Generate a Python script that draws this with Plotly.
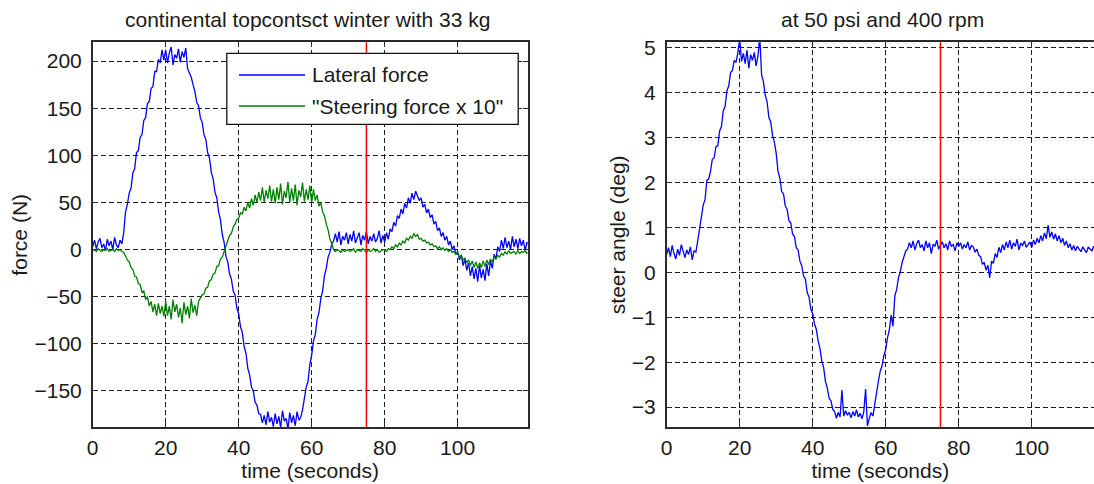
import plotly.graph_objects as go

TIME_STEP = 0.5

lateral_force = [
    3, 10, 1, 8, 12, 2, 6, -1, 11, 4, 9, 0, 13, 5, 2, 10, 6, 18, 40, 48,
    60, 65, 81, 86, 103, 105, 119, 122, 137, 140, 155, 157, 171, 173, 189, 189, 202, 198, 212, 201,
    212, 198, 209, 215, 196, 207, 203, 213, 199, 210, 204, 214, 192, 188, 183, 175, 168, 156, 153, 140,
    135, 122, 117, 103, 97, 82, 75, 61, 55, 40, 32, 16, 8, -7, -13, -26, -31, -44, -48, -62,
    -68, -82, -88, -103, -110, -126, -133, -146, -150, -162, -165, -174, -175, -184, -176, -186, -172, -183, -178, -188,
    -174, -185, -177, -189, -171, -182, -179, -190, -173, -184, -176, -187, -172, -181, -178, -170, -158, -146, -140, -122,
    -112, -97, -90, -74, -67, -52, -44, -28, -20, -8, -3, 6, 9, 17, 8, 19, 5, 14, 10, 18,
    6, 16, 9, 20, 7, 13, 18, 5, 15, 10, 19, 6, 14, 9, 17, 8, 12, 20, 7, 15,
    8, 18, 11, 22, 19, 29, 25, 36, 33, 43, 38, 49, 44, 55, 49, 60, 53, 62, 56, 52,
    55, 45, 48, 39, 43, 34, 37, 27, 30, 20, 23, 14, 18, 10, 14, 5, 9, 0, 4, -5,
    -2, -11, -6, -17, -10, -22, -14, -28, -18, -31, -20, -34, -17, -30, -21, -33, -15, -28, -12, -20,
    -5, -10, 3, -2, 10, 1, 13, 2, 9, 0, 14, 3, 11, 1, 12, 4, 10, -1, 8, 5,
]

steering_force_x10 = [
    -1, 0, -2, 1, -1, -2, 0, -1, 1, -2, -1, 0, -2, 1, -1, 0, -2, -3, -7, -11,
    -13, -19, -21, -28, -29, -36, -37, -45, -44, -53, -50, -60, -55, -66, -58, -70, -57, -68, -60, -71,
    -55, -70, -60, -74, -53, -66, -58, -72, -62, -78, -56, -69, -60, -73, -52, -67, -59, -70, -55, -51,
    -48, -47, -41, -40, -33, -32, -26, -25, -18, -17, -10, -8, -2, 2, 9, 15, 17, 24, 27, 32,
    33, 39, 38, 45, 41, 50, 44, 54, 47, 58, 50, 61, 52, 66, 50, 63, 54, 68, 51, 64,
    49, 66, 53, 70, 48, 62, 55, 72, 50, 65, 52, 69, 47, 63, 56, 71, 51, 64, 53, 68,
    50, 64, 52, 58, 46, 50, 40, 36, 27, 21, 11, 7, 0, -2, 0, -1, -3, 0, -2, -1,
    0, -2, -1, 1, -3, 0, -1, -2, 1, -1, -3, 0, -2, -1, 1, -2, 0, -3, -1, 0,
    0, -2, 1, 0, 3, 1, 5, 3, 7, 5, 9, 7, 12, 10, 14, 12, 17, 14, 16, 11,
    12, 9, 10, 7, 8, 5, 6, 3, 4, 1, 3, 0, 2, -1, 1, -2, 0, -3, -2, -5,
    -3, -8, -6, -11, -9, -14, -11, -17, -12, -19, -13, -20, -14, -19, -12, -18, -11, -16, -10, -13,
    -8, -10, -6, -8, -4, -6, -2, -5, -1, -4, -3, -2, -5, -1, -4, -2, -3, -1, -4, -2,
]

steer_angle = [
    0.40, 0.55, 0.35, 0.60, 0.42, 0.30, 0.52, 0.38, 0.62, 0.45, 0.33, 0.50, 0.40, 0.57, 0.28, 0.48, 0.45, 0.70, 0.95, 1.20,
    1.50, 1.62, 2.05, 2.08, 2.25, 2.52, 2.55, 2.80, 2.82, 3.15, 3.25, 3.60, 3.70, 4.05, 4.15, 4.45, 4.50, 4.72, 4.68, 4.90,
    5.20, 4.70, 4.88, 4.65, 4.95, 4.55, 4.85, 4.72, 4.90, 4.60, 4.82, 5.25, 4.40, 4.25, 3.95, 3.80, 3.45, 3.35, 3.05, 2.90,
    2.65, 2.25, 2.10, 1.80, 1.75, 1.48, 1.40, 1.15, 1.10, 0.85, 0.80, 0.55, 0.50, 0.25, 0.15, -0.08, -0.15, -0.45, -0.55, -0.82,
    -0.92, -1.15, -1.27, -1.53, -1.70, -1.98, -2.12, -2.43, -2.57, -2.80, -2.86, -3.05, -3.10, -3.25, -3.12, -3.22, -2.62, -3.20, -3.08, -3.18,
    -3.12, -3.24, -3.10, -3.20, -3.06, -3.22, -3.14, -3.26, -3.10, -2.60, -3.42, -3.25, -3.12, -3.20, -2.92, -2.60, -2.42, -2.20, -2.08, -1.85,
    -1.72, -1.45, -1.28, -0.95, -1.20, -0.52, -0.38, -0.12, 0.02, 0.22, 0.33, 0.48, 0.52, 0.66, 0.55, 0.70, 0.50, 0.64, 0.72, 0.55,
    0.62, 0.48, 0.70, 0.55, 0.66, 0.42, 0.63, 0.58, 0.72, 0.52, 0.60, 0.68, 0.55, 0.64, 0.50, 0.70, 0.58, 0.62, 0.48, 0.66,
    0.58, 0.66, 0.52, 0.62, 0.55, 0.68, 0.50, 0.60, 0.57, 0.45, 0.52, 0.38, 0.35, 0.18, 0.22, 0.05, 0.16, -0.12, 0.25, 0.20,
    0.42, 0.33, 0.56, 0.44, 0.62, 0.50, 0.68, 0.55, 0.72, 0.52, 0.66, 0.58, 0.74, 0.50, 0.65, 0.60, 0.70, 0.56, 0.62, 0.68,
    0.55, 0.72, 0.62, 0.76, 0.66, 0.82, 0.70, 0.88, 0.75, 1.05, 0.78, 0.90, 0.74, 0.86, 0.70, 0.82, 0.66, 0.76, 0.60, 0.70,
    0.55, 0.64, 0.50, 0.60, 0.48, 0.58, 0.52, 0.46, 0.57, 0.50, 0.44, 0.56, 0.52, 0.48, 0.58, 0.50, 0.54, 0.47, 0.55, 0.51,
]

time_s = [i * TIME_STEP for i in range(len(lateral_force))]

time_ticks = [0, 20, 40, 60, 80, 100]
force_ticks = [-150, -100, -50, 0, 50, 100, 150, 200]
angle_ticks = [-3, -2, -1, 0, 1, 2, 3, 4, 5]
marker_time = 75

left_title = "continental topcontsct winter with 33 kg"
right_title = "at 50 psi and 400 rpm"
legend_labels = ["Lateral force", "\"Steering force x 10\""]

# ---------------- styling ----------------
W, H = 1094, 484
FONT = "Liberation Sans, Arial, Helvetica, sans-serif"
FS = 21
TXT = "#1a1a1a"
AXC = "#2a2a2a"
BLUE = "#0000ff"
GREEN = "#008000"
RED = "#ff0000"


def px_x(p):
    return p / W


def px_y(p):
    return 1 - p / H


fig = go.Figure()
fig.add_trace(go.Scatter(x=time_s, y=lateral_force, mode="lines", name=legend_labels[0],
                         line=dict(color=BLUE, width=1.3), xaxis="x", yaxis="y", showlegend=False))
fig.add_trace(go.Scatter(x=time_s, y=steering_force_x10, mode="lines", name=legend_labels[1],
                         line=dict(color=GREEN, width=1.3), xaxis="x", yaxis="y", showlegend=False))
fig.add_trace(go.Scatter(x=time_s, y=steer_angle, mode="lines", name="steer angle",
                         line=dict(color=BLUE, width=1.3), xaxis="x2", yaxis="y2", showlegend=False))

common = dict(
    showgrid=True, gridcolor="#1e1e1e", gridwidth=1, griddash="5px,3px",
    zeroline=False, showline=True, linecolor=AXC, linewidth=1.5,
    ticks="inside", ticklen=5, tickwidth=1, tickcolor=AXC,
    tickfont=dict(family=FONT, size=FS, color=TXT),
    title_font=dict(family=FONT, size=FS, color=TXT),
)

y_dom = [px_y(427.3), px_y(42.3)]

fig.update_layout(
    width=W, height=H, template="none",
    margin=dict(l=0, r=0, t=0, b=0, pad=0),
    paper_bgcolor="white", plot_bgcolor="white",
    font=dict(family=FONT, size=FS, color=TXT),
    showlegend=False,
    xaxis=dict(domain=[px_x(92.7), px_x(527.7)], range=[0, 119.2], tickvals=time_ticks,
               mirror="ticks", anchor="y", ticklabelstandoff=1,
               title=dict(text="time (seconds)", standoff=5), **common),
    yaxis=dict(domain=y_dom, range=[-188.6, 220], tickvals=force_ticks,
               mirror="ticks", anchor="x", ticklabelstandoff=5,
               title=dict(text="force (N)", standoff=1), **common),
    xaxis2=dict(domain=[px_x(666.7), 1.0], range=[0, 117.07], tickvals=time_ticks,
                mirror="ticks", anchor="y2", ticklabelstandoff=1,
                title=dict(text="time (seconds)", standoff=5), **common),
    yaxis2=dict(domain=y_dom, range=[-3.45, 5.125], tickvals=angle_ticks,
                mirror=False, anchor="x2", ticklabelstandoff=5,
                title=dict(text="steer angle (deg)", standoff=0), **common),
)

# red marker lines
for xr, yr in (("x", "y"), ("x2", "y2")):
    fig.add_shape(type="line", xref=xr, yref=yr + " domain", x0=marker_time, x1=marker_time,
                  y0=0, y1=1, line=dict(color=RED, width=1.5), layer="above")

# legend box (drawn manually to match the long MATLAB line samples)
fig.add_shape(type="rect", xref="paper", yref="paper",
              x0=px_x(226.8), x1=px_x(518.2), y0=px_y(124.3), y1=px_y(53.3),
              fillcolor="white", line=dict(color="#111111", width=1.3), layer="above")
for label, color, ypix in ((legend_labels[0], BLUE, 75.0), (legend_labels[1], GREEN, 106.0)):
    fig.add_shape(type="line", xref="paper", yref="paper",
                  x0=px_x(239), x1=px_x(305), y0=px_y(ypix), y1=px_y(ypix),
                  line=dict(color=color, width=1.5), layer="above")
    fig.add_annotation(xref="paper", yref="paper", x=px_x(310), y=px_y(ypix),
                       text=label, showarrow=False, xanchor="left", yanchor="middle",
                       font=dict(family=FONT, size=FS, color=TXT))

# subplot titles
fig.add_annotation(xref="paper", yref="paper", x=px_x(307), y=px_y(20), text=left_title,
                   showarrow=False, xanchor="center", yanchor="middle",
                   font=dict(family=FONT, size=FS, color=TXT))
fig.add_annotation(xref="paper", yref="paper", x=px_x(882), y=px_y(20), text=right_title,
                   showarrow=False, xanchor="center", yanchor="middle",
                   font=dict(family=FONT, size=FS, color=TXT))

fig.write_html("out.html")
